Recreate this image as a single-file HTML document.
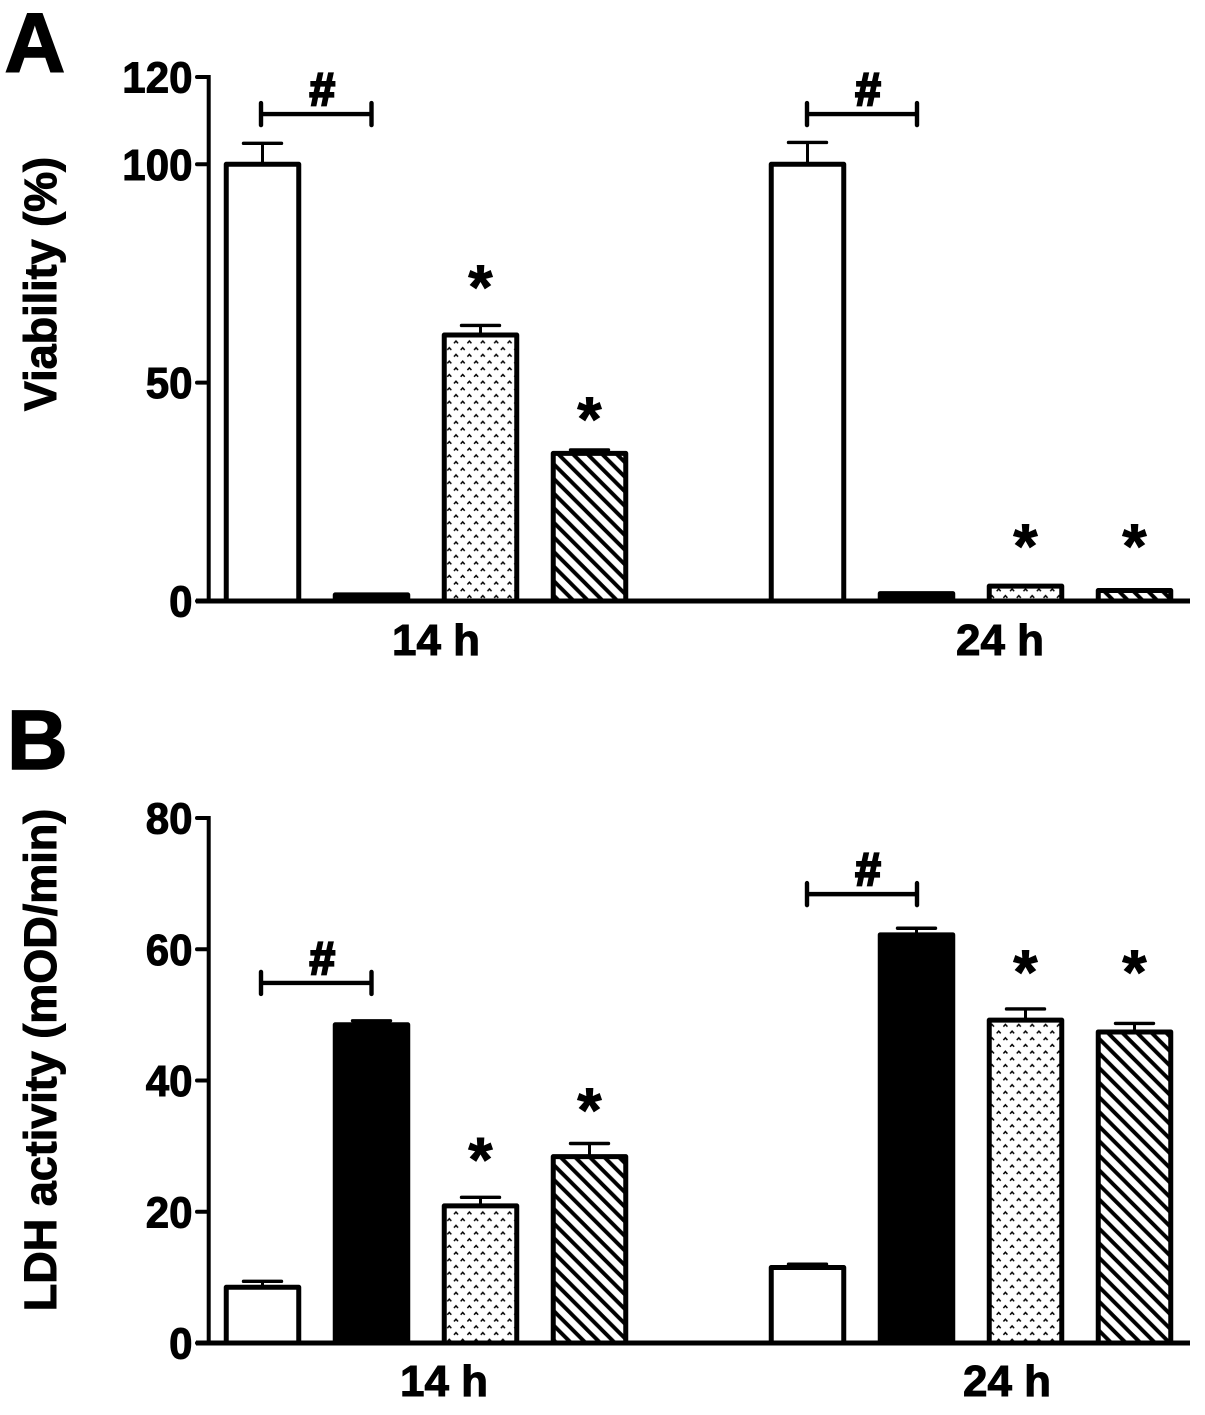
<!DOCTYPE html>
<html lang="en">
<head>
<meta charset="utf-8">
<title>Viability and LDH activity</title>
<style>
html,body{margin:0;padding:0;background:#fff;width:1205px;height:1415px;overflow:hidden}
svg{display:block}
text{font-family:"Liberation Sans",Arial,sans-serif;font-weight:bold;fill:#000;stroke:#000;stroke-width:1}
</style>
</head>
<body>
<svg id="fig" xmlns="http://www.w3.org/2000/svg" width="1205" height="1415" viewBox="0 0 1205 1415">
<defs>
<pattern id="dots" patternUnits="userSpaceOnUse" width="13.4" height="13.4" x="10.4" y="3.3">
<path d="M1.4 5 L3.4 2.7 L5.4 5" fill="none" stroke="#000" stroke-width="1.5"/>
<path d="M8.1 11.7 L10.1 9.4 L12.1 11.7" fill="none" stroke="#000" stroke-width="1.5"/>
</pattern>
<pattern id="hatch" patternUnits="userSpaceOnUse" width="14.6" height="14.6" x="2" y="0">
<path d="M-3 -3 L17.6 17.6 M-3 11.6 L3 17.6 M11.6 -3 L17.6 3" stroke="#000" stroke-width="3.9" fill="none"/>
</pattern>
</defs>
</svg>
<script>
var categoryLabels = ['14 h', '24 h'];
var tickLabelsA = [0, 50, 100, 120];
var tickLabelsB = [0, 20, 40, 60, 80];
var viabilityValues = [100, 1.4, 60.9, 33.8, 100, 1.7, 3.4, 2.4];
var viabilityErrors = [4.8, 0.1, 2.2, 0.8, 5, 0.1, 0.1, 0.1];
var ldhValues = [8.5, 48.5, 20.9, 28.4, 11.5, 62.2, 49.2, 47.4];
var ldhErrors = [0.9, 0.6, 1.3, 2, 0.5, 1, 1.7, 1.3];
var viabilityStars = [null, null, 74, 43.7, null, null, 14.6, 14.6];
var ldhStars = [null, null, 29.3, 36.9, null, null, 57.9, 57.9];
var viabilityBrackets = [111.5, 111.5];
var ldhBrackets = [54.86, 68.4];

var NS = 'http://www.w3.org/2000/svg';
var svg = document.getElementById('fig');
var barFills = ['#fff', '#000', 'url(#dots)', 'url(#hatch)'];
var barNames = ['control', 'treated', 'dotted', 'hatched'];
var barCenters = [262.5, 371.5, 480.5, 589.5, 807.5, 916.5, 1025.5, 1134.5];
var bracketXs = [[261, 371.5], [807, 917]];

function el(tag, attrs, parent) {
  var e = document.createElementNS(NS, tag);
  for (var k in attrs) e.setAttribute(k, attrs[k]);
  (parent || svg).appendChild(e);
  return e;
}
function txt(str, x, y, size, anchor, parent, transform) {
  var t = el('text', {x: x, y: y, 'font-size': size, 'text-anchor': anchor || 'middle'}, parent);
  if (transform) t.setAttribute('transform', transform);
  t.textContent = str;
  return t;
}

function panel(cfg) {
  var g = el('g', {});
  
  
  var yOf = function (v) { return cfg.y0 - v * cfg.scale; };

  var letter = txt(cfg.key.toUpperCase(), cfg.letterX, cfg.letterY, 84, 'start', g);
  letter.style.strokeWidth = '1.6px';
  
  

  var title = txt(cfg.title, 0, 0, 45, 'middle', g, 'translate(56,' + cfg.titleY + ') rotate(-90)');
  
  

  cfg.values.forEach(function (v, i) {
    var cx = barCenters[i];
    var kind = i % 4;
    var group = i < 4 ? 0 : 1;
    var top = yOf(v);
    var errTop = yOf(v + cfg.errors[i]);

    var stem = el('line', {x1: cx, x2: cx, y1: top, y2: errTop, stroke: '#000', 'stroke-width': 3}, g);
    
    
    var cap = el('line', {x1: cx - 19, x2: cx + 19, y1: errTop, y2: errTop, stroke: '#000', 'stroke-width': 3.4, 'stroke-linecap': 'round'}, g);
    
    

    var bar = el('rect', {x: cx - 36.25, y: top, width: 72.5, height: cfg.y0 - top, fill: barFills[kind], stroke: '#000', 'stroke-width': 5, 'stroke-linejoin': 'round'}, g);
    
    

    if (cfg.stars[i] !== null) {
      var star = txt('*', cx, yOf(cfg.stars[i]) + 30.5, 62, 'middle', g);
      
      
    }
  });

  // axes
  var yAxis = el('line', {x1: 208.7, x2: 208.7, y1: yOf(cfg.ticks[cfg.ticks.length - 1]) - 2, y2: cfg.y0 + 2, stroke: '#000', 'stroke-width': 4}, g);
  
  
  var xAxis = el('line', {x1: 196, x2: 1190, y1: cfg.y0, y2: cfg.y0, stroke: '#000', 'stroke-width': 5}, g);
  
  

  cfg.ticks.forEach(function (t) {
    var y = yOf(t);
    var tick = el('line', {x1: 197, x2: 208, y1: y, y2: y, stroke: '#000', 'stroke-width': 4, 'stroke-linecap': 'round'}, g);
    
    
    var lab = txt(String(t), 192.5, y + 15.5, 44, 'end', g);
    lab.setAttribute('textLength', String(t).length * 23.4);
    lab.setAttribute('lengthAdjust', 'spacingAndGlyphs');
    
    
  });

  categoryLabels.forEach(function (c, i) {
    var lab = txt(c, cfg.catX[i], cfg.catY, 44, 'middle', g);
    
    
  });

  cfg.brackets.forEach(function (v, i) {
    var y = yOf(v);
    var xs = bracketXs[i];
    var b = el('path', {d: 'M' + xs[0] + ' ' + (y - 11) + 'V' + (y + 11) + 'M' + xs[0] + ' ' + y + 'H' + xs[1] + 'M' + xs[1] + ' ' + (y - 11) + 'V' + (y + 11), fill: 'none', stroke: '#000', 'stroke-width': 4.4, 'stroke-linecap': 'round'}, g);
    
    
    var h = txt('#', (xs[0] + xs[1]) / 2 + 6, y - 9, 46, 'middle', g);
    h.style.strokeWidth = '2.2px';
    
    
  });
}

panel({
  key: 'a', title: 'Viability (%)', titleY: 284, letterX: 4.5, letterY: 72,
  y0: 601, scale: 4.367, ticks: tickLabelsA, values: viabilityValues, errors: viabilityErrors,
  stars: viabilityStars, brackets: viabilityBrackets, catX: [436, 1000], catY: 655
});
panel({
  key: 'b', title: 'LDH activity (mOD/min)', titleY: 1060, letterX: 7, letterY: 769,
  y0: 1343, scale: 6.5625, ticks: tickLabelsB, values: ldhValues, errors: ldhErrors,
  stars: ldhStars, brackets: ldhBrackets, catX: [444, 1007], catY: 1396
});
</script>
</body>
</html>
